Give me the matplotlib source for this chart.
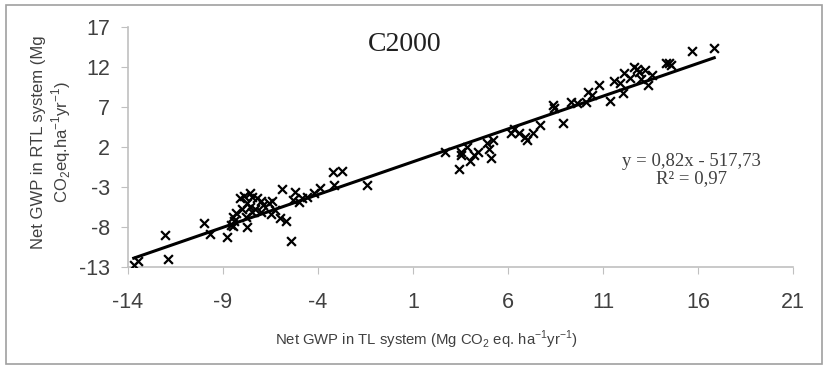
#!/usr/bin/env python3
# Scatter of net GWP, RTL vs TL system (C2000) with linear trend line

import numpy as np
import matplotlib
matplotlib.use("Agg")
import matplotlib.pyplot as plt
from matplotlib.patches import Rectangle

# values
gwp_tl = [-13.7, -13.5, -12.05, -11.9, -10.0, -9.7, -8.8, -8.5, -8.4, -8.6,
          -8.5, -8.1, -7.9, -7.6, -7.5, -7.75, -7.2, -7.5, -7.8, -7.75,
          -7.6, -7.3, -7.0, -6.9, -6.4, -6.25, -6.0, -5.9, -5.7, -5.4,
          -5.2, -5.3, -4.85, -4.6, -4.2, -3.9, -3.2, -2.75, -3.15, -1.4,
          -8.0, -6.6, -6.5, -7.0, -5.0, -8.3,
          2.7, 3.4, 3.5, 3.5, 3.85, 4.0, 4.2, 4.4, 4.9, 5.1,
          5.2, 5.0, 6.15, 6.6, 7.0, 7.3, 7.7, 8.9, 6.3, 6.9,
          8.35, 8.4, 9.3, 9.65, 10.1, 10.4, 10.8, 10.2, 11.35, 11.6,
          12.05, 12.1, 12.65, 12.9, 13.2, 13.35, 13.6, 14.3, 14.6, 15.7,
          16.85, 12.4, 11.9, 12.8, 14.45, 13.0]
gwp_rtl = [-12.7, -12.2, -9.0, -12.0, -7.5, -8.9, -9.3, -7.9, -7.3, -7.75,
           -6.7, -4.4, -4.1, -3.8, -4.2, -5.0, -4.4, -6.1, -6.7, -8.0,
           -5.5, -5.7, -6.1, -5.3, -4.8, -5.9, -6.9, -3.2, -7.3, -9.8,
           -3.6, -4.6, -4.4, -4.2, -3.8, -3.1, -1.1, -0.95, -2.75, -2.75,
           -5.8, -5.0, -6.4, -4.8, -4.9, -6.2,
           1.4, -0.8, 1.4, 1.0, 2.0, 0.2, 1.0, 1.4, 2.5, 0.6,
           2.9, 1.8, 3.7, 3.7, 2.9, 3.7, 4.75, 5.0, 4.2, 3.3,
           7.25, 6.9, 7.65, 7.45, 7.65, 8.5, 9.75, 8.9, 7.7, 10.2,
           8.7, 11.2, 12.0, 11.4, 11.6, 9.75, 11.0, 12.45, 12.25, 14.05,
           14.35, 10.6, 10.0, 11.7, 12.5, 10.5]

fit_slope = 0.82
fit_offset = -0.66
equation = "y = 0,82x - 517,73\nR² = 0,97"

xticks = [-14, -9, -4, 1, 6, 11, 16, 21]
yticks = [-13, -8, -3, 2, 7, 12, 17]

plt.rcParams['font.family'] = ['Liberation Sans', 'DejaVu Sans']
plt.rcParams['mathtext.fontset'] = 'custom'
plt.rcParams['mathtext.rm'] = 'Liberation Sans'
plt.rcParams['axes.unicode_minus'] = False

fig = plt.figure(figsize=(8.27, 3.69), dpi=100)
ax = fig.add_axes([0.1548, 0.2764, 0.8042, 0.6504])

x = np.array(gwp_tl)
y = np.array(gwp_rtl)
ax.scatter(x, y, marker='x', s=40, color='black', linewidths=1.6, zorder=3)

xl = np.array([x.min(), x.max()])
ax.plot(xl, fit_slope * xl + fit_offset, color='black', lw=2.2, zorder=2)

ax.set_xlim(-14, 21)
ax.set_ylim(-13, 17)
ax.set_xticks(xticks)
ax.set_yticks(yticks)

for s in ['top', 'right']:
    ax.spines[s].set_visible(False)
for s in ['left', 'bottom']:
    ax.spines[s].set_color('#c0c0c0')
    ax.spines[s].set_linewidth(1.2)
ax.tick_params(axis='both', direction='out', length=5, color='#c0c0c0',
               labelsize=15.5, labelcolor='#404040')
ax.tick_params(axis='x', pad=13)
ax.tick_params(axis='y', pad=8)

ax.set_xlabel("Net GWP in TL system (Mg CO$_2$ eq. ha$^{-1}$yr$^{-1}$)",
              fontsize=10.7, color='#404040')
ax.xaxis.set_label_coords(0.448, -0.255)
ax.set_ylabel("Net GWP in RTL system (Mg\nCO$_2$eq.ha$^{-1}$yr$^{-1}$)",
              fontsize=12, color='#404040', linespacing=1.2)
ax.yaxis.set_label_coords(-0.083, 0.52)

ax.text(0.4165, 0.929, "C2000", transform=ax.transAxes, ha='center', va='center',
        fontsize=20, family='Liberation Serif', color='#202020')
ax.text(0.847, 0.404, equation, transform=ax.transAxes, ha='center', va='center',
        fontsize=13.5, family='Liberation Serif', color='#404040', linespacing=1.05)

# thin grey frame round the whole chart
fig.patches.append(Rectangle((0.007, 0.014), 0.987, 0.972, transform=fig.transFigure,
                             fill=False, edgecolor='#a0a0a0', lw=1.2))

fig.savefig("out.png", dpi=100)
